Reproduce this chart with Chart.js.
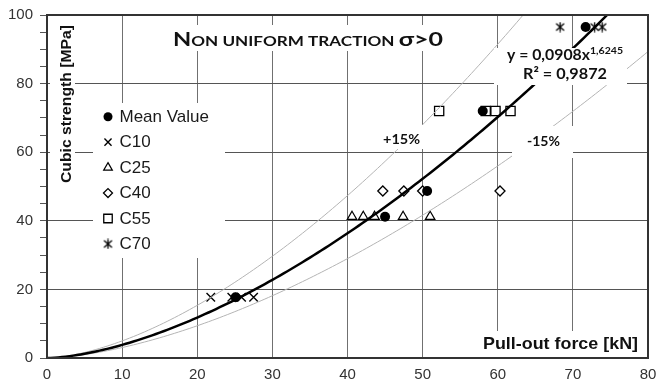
<!DOCTYPE html>
<html>
<head>
<meta charset="utf-8">
<script src="https://cdn.jsdelivr.net/npm/chart.js@4/dist/chart.umd.min.js"></script>
<style>
  html, body { margin: 0; padding: 0; background: #fff; }
  #wrap { width: 657px; height: 383px; }
</style>
</head>
<body>
<div id="wrap"><canvas id="c" width="657" height="383"></canvas></div>
<script>
// Pull-out test results: cubic strength class vs pull-out force
const strengthClass = ['C10', 'C25', 'C40', 'C55', 'C70'];
const cubicStrength = [17.7, 41.2, 48.7, 72.0, 96.5];      // MPa, one level per class
const pullC10 = [21.8, 24.6, 25.9, 27.5];                  // kN
const pullC25 = [40.6, 42.1, 43.6, 47.4, 51.0];
const pullC40 = [44.7, 47.5, 50.0, 60.3];
const pullC55 = [52.2, 58.4, 59.7, 61.7];
const pullC70 = [68.3, 72.9, 73.9];
const pullMean = [25.1, 45.0, 50.6, 58.0, 71.7];

// Power-law fit y = a * x^b and the ±15 % band on pull-out force
const fitA = 0.0908;
const fitB = 1.6245;
const fitR2 = 0.9872;
const band = 0.15;

const xTicks = [0, 10, 20, 30, 40, 50, 60, 70, 80];
const yTickLabels = [0, 20, 40, 60, 80, 100];

const pullSeries = [pullC10, pullC25, pullC40, pullC55, pullC70];

function fitCurve(scale) {
  const pts = [];
  for (let x = 0; x <= 80; x += 0.5) {
    pts.push({ x: x, y: fitA * Math.pow(x / scale, fitB) });
  }
  return pts;
}

// six-armed asterisk marker for C70
const asterisk = document.createElement('canvas');
asterisk.width = 11; asterisk.height = 11;
(function () {
  const g = asterisk.getContext('2d');
  g.strokeStyle = '#000'; g.lineWidth = 1.3;
  g.beginPath();
  g.moveTo(1.5, 2); g.lineTo(9.5, 9);
  g.moveTo(9.5, 2); g.lineTo(1.5, 9);
  g.moveTo(5.5, 0.5); g.lineTo(5.5, 10.5);
  g.stroke();
})();

const markerStyles = [
  { pointStyle: 'crossRot', radius: 6, legendRadius: 5, borderWidth: 1.4, fill: '#000' },
  { pointStyle: 'triangle', radius: 5.5, legendRadius: 5, borderWidth: 1.2, fill: '#fff' },
  { pointStyle: 'rectRot', radius: 5, legendRadius: 4.5, borderWidth: 1.3, fill: '#fff' },
  { pointStyle: 'rect', radius: 6.5, legendRadius: 6, borderWidth: 1.3, fill: '#fff' },
  { pointStyle: asterisk, radius: 5, legendRadius: 5, borderWidth: 0, fill: '#000' }
];

const datasets = [
  { label: 'fit', type: 'line', data: fitCurve(1), borderColor: '#000', borderWidth: 2.5,
    pointRadius: 0, fill: false, tension: 0, order: 0, showLine: true },
  { label: '+15%', type: 'line', data: fitCurve(1 - band), borderColor: '#b4b4b4', borderWidth: 1,
    pointRadius: 0, fill: false, tension: 0, order: 0, showLine: true },
  { label: '-15%', type: 'line', data: fitCurve(1 + band), borderColor: '#b4b4b4', borderWidth: 1,
    pointRadius: 0, fill: false, tension: 0, order: 0, showLine: true },
  { label: 'Mean Value', legend: true, data: pullMean.map((x, i) => ({ x: x, y: cubicStrength[i] })),
    pointStyle: 'circle', pointRadius: 5, legendRadius: 4.5, backgroundColor: '#000', borderColor: '#000',
    borderWidth: 0, order: 1 }
];
strengthClass.forEach((name, i) => {
  const m = markerStyles[i];
  datasets.push({
    label: name, legend: true,
    data: pullSeries[i].map(x => ({ x: x, y: cubicStrength[i] })),
    pointStyle: m.pointStyle, pointRadius: m.radius, legendRadius: m.legendRadius,
    backgroundColor: m.fill, borderColor: '#000', borderWidth: m.borderWidth, order: 2
  });
});

// draws runs of text squeezed/stretched to a given width
function fitText(ctx, runs, x, y, width, align) {
  let total = 0;
  runs.forEach(r => { ctx.font = r.font; r.w = ctx.measureText(r.t).width; total += r.w; });
  const s = width / total;
  ctx.save();
  ctx.translate(align === 'center' ? x - width / 2 : x, y);
  ctx.scale(s, 1);
  let cx = 0;
  runs.forEach(r => {
    ctx.font = r.font;
    ctx.textAlign = 'left';
    ctx.fillText(r.t, cx, r.dy || 0);
    cx += r.w;
  });
  ctx.restore();
}

const overlay = {
  id: 'overlay',
  afterDatasetsDraw(chart) {
    const ctx = chart.ctx;
    const a = chart.chartArea;
    ctx.save();
    // label backgrounds
    ctx.fillStyle = '#fff';
    [[165, 25, 450, 51], [494, 48, 627, 85], [379, 125, 424, 149], [512, 126, 573, 158],
     [93, 103, 225, 258], [50, 20, 75, 186], [478, 331, 646, 357]].forEach(b => {
      ctx.fillRect(b[0], b[1], b[2] - b[0], b[3] - b[1]);
    });

    ctx.fillStyle = '#111';
    ctx.textBaseline = 'alphabetic';
    // title in small capitals
    fitText(ctx, [
      { t: 'N', font: 'bold 18px Lato' },
      { t: 'ON UNIFORM TRACTION ', font: 'bold 13px Lato' },
      { t: 'σ>0', font: 'bold 19px Lato' }
    ], 173, 45.5, 270);

    // fit equation
    fitText(ctx, [
      { t: 'y = ' + fitA.toString().replace('.', ',') + 'x', font: 'bold 15px Lato' },
      { t: fitB.toString().replace('.', ','), font: 'bold 10px Lato', dy: -6 }
    ], 507, 60, 116);
    fitText(ctx, [{ t: 'R² = ' + fitR2.toString().replace('.', ','), font: 'bold 15px Lato' }],
      523, 78.5, 84);

    // band labels
    fitText(ctx, [{ t: '+' + Math.round(band * 100) + '%', font: 'bold 14px Lato' }], 383, 143.5, 37);
    fitText(ctx, [{ t: '-' + Math.round(band * 100) + '%', font: 'bold 14px Lato' }], 527, 145.5, 33);

    // axis titles
    ctx.fillStyle = '#111';
    fitText(ctx, [{ t: 'Pull-out force [kN]', font: 'bold 17px "Liberation Sans"' }], 483, 348.5, 155);
    ctx.save();
    ctx.translate(70.5, 104);
    ctx.rotate(-Math.PI / 2);
    fitText(ctx, [{ t: 'Cubic strength [MPa]', font: 'bold 15.5px "Liberation Sans"' }], 0, 0, 158, 'center');
    ctx.restore();

    // legend
    const rows = chart.data.datasets.filter(d => d.legend);
    rows.forEach((d, i) => {
      const y = 116.7 + i * 25.45;
      ctx.fillStyle = d.backgroundColor;
      ctx.strokeStyle = d.borderColor;
      ctx.lineWidth = d.borderWidth;
      Chart.helpers.drawPoint(ctx, {
        pointStyle: d.pointStyle, rotation: 0, radius: d.legendRadius, borderWidth: d.borderWidth
      }, 108, y);
      ctx.fillStyle = '#1a1a1a';
      ctx.font = '17px "Liberation Sans"';
      ctx.textBaseline = 'middle';
      ctx.textAlign = 'left';
      ctx.fillText(d.label, 119.5, y + 0.5);
    });

    // plot frame
    ctx.strokeStyle = '#333';
    ctx.lineWidth = 2;
    ctx.strokeRect(a.left, a.top, a.right - a.left, a.bottom - a.top);
    ctx.restore();
  }
};

const tickFont = { family: '"Liberation Sans", Arial, sans-serif', size: 15 };

new Chart(document.getElementById('c'), {
  type: 'scatter',
  data: { datasets: datasets },
  options: {
    responsive: false,
    devicePixelRatio: 1,
    animation: false,
    layout: { autoPadding: false, padding: { top: 15, right: 9, left: 0, bottom: 0 } },
    plugins: { legend: { display: false }, tooltip: { enabled: false } },
    scales: {
      x: {
        type: 'linear', min: xTicks[0], max: xTicks[xTicks.length - 1],
        afterBuildTicks: s => { s.ticks = xTicks.map(v => ({ value: v })); },
        ticks: { font: tickFont, color: '#333', padding: 8, maxRotation: 0, autoSkip: false },
        grid: { color: '#707070', lineWidth: 1, drawTicks: false },
        border: { display: false },
        afterFit: s => { s.height = 25; s.paddingRight = 0; s.paddingLeft = 0; }
      },
      y: {
        type: 'linear', min: 0, max: 100,
        ticks: {
          stepSize: 5, autoSkip: false, font: tickFont, color: '#333', padding: 7,
          callback: v => (yTickLabels.includes(v) ? String(v) : '')
        },
        grid: {
          color: c => (c.tick && yTickLabels.includes(c.tick.value) ? '#555' : 'rgba(0,0,0,0)'),
          tickColor: '#555', tickLength: 7, lineWidth: 1, drawTicks: true
        },
        border: { display: false },
        afterFit: s => { s.width = 47; s.paddingTop = 0; s.paddingBottom = 0; }
      }
    }
  },
  plugins: [overlay]
});
</script>
</body>
</html>
